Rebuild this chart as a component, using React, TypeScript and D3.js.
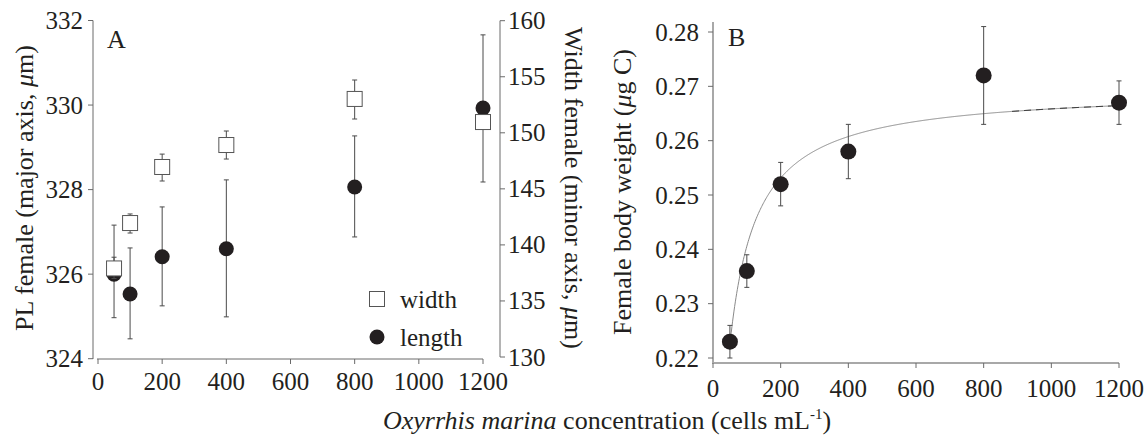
import React from "react";
import * as d3 from "d3";

// ---------- Data ----------
const concA = [50, 100, 200, 400, 800, 1200];
const lengthMean = [326.0, 325.53, 326.41, 326.6, 328.06, 329.93];
const lengthLo = [324.97, 324.47, 325.25, 324.99, 326.88, 328.18];
const lengthHi = [327.16, 326.62, 327.59, 328.23, 329.27, 331.66];
const widthMean = [137.9, 141.95, 146.95, 148.91, 153.02, 150.96];
const widthLo = [137.0, 141.06, 145.7, 147.66, 151.23, 150.5];
const widthHi = [138.9, 142.76, 148.1, 150.16, 154.71, 151.4];

const concB = [50, 100, 200, 400, 800, 1200];
const weightMean = [0.223, 0.236, 0.252, 0.258, 0.272, 0.267];
const weightLo = [0.22, 0.233, 0.248, 0.253, 0.263, 0.263];
const weightHi = [0.226, 0.239, 0.256, 0.263, 0.281, 0.271];

// fitted saturating model parameters
const fitBase = 0.2225;
const fitAmp = 0.047;
const fitK = 80;
const fitC0 = 50;

const xTicks = [0, 200, 400, 600, 800, 1000, 1200];
const yLeftTicksA = [324, 326, 328, 330, 332];
const yRightTicksA = [130, 135, 140, 145, 150, 155, 160];
const yTicksB = [0.22, 0.23, 0.24, 0.25, 0.26, 0.27, 0.28];

const INK = "#231f20";
const FONT = '"Liberation Serif", "DejaVu Serif", serif';
const FS = 25;
const TFS = 26;

export default function App() {
  const xA = d3.scaleLinear().domain([0, 1200]).range([98, 483]);
  const yL = d3.scaleLinear().domain([324, 332]).range([358.7, 20.5]);
  const yR = d3.scaleLinear().domain([130, 160]).range([357, 20.7]);
  const xB = d3.scaleLinear().domain([0, 1200]).range([713, 1119]);
  const yB = d3.scaleLinear().domain([0.22, 0.28]).range([358, 32]);

  const fit = (c: number) => fitBase + (fitAmp * (c - fitC0)) / (fitK + c - fitC0);
  const fitPts = d3.range(52, 1200.1, 2);
  const line = d3
    .line<number>()
    .x((c) => xB(c))
    .y((c) => yB(fit(c)));
  const dashPts = d3.range(884, 1178.1, 2);

  const axA = "#6a6a6a";
  const axB = "#a8a8a8";
  const eb = "#4a4a4a";
  const cap = 2.5;

  const errBar = (x: number, y1: number, y2: number, key: string, color = eb) => (
    <g key={key} stroke={color} strokeWidth={1}>
      <line x1={x} x2={x} y1={y1} y2={y2} />
      <line x1={x - cap} x2={x + cap} y1={y1} y2={y1} />
      <line x1={x - cap} x2={x + cap} y1={y2} y2={y2} />
    </g>
  );

  return (
    <svg
      width={1148}
      height={438}
      style={{ position: "absolute", left: 0, top: 0, fontFamily: FONT }}
      fill={INK}
    >
      <rect x={0} y={0} width={1148} height={438} fill="#fff" />

      {/* ---------- Panel A ---------- */}
      <line x1={93} x2={93} y1={yL(332)} y2={359} stroke={axA} strokeWidth={1} />
      {yLeftTicksA.map((t) => (
        <g key={"yl" + t}>
          <line x1={88} x2={93} y1={yL(t)} y2={yL(t)} stroke={axA} />
          <text x={83} y={yL(t) + 8.5} textAnchor="end" fontSize={FS}>
            {t}
          </text>
        </g>
      ))}
      <line x1={97} x2={xA(1200)} y1={359} y2={359} stroke={axA} strokeWidth={1} />
      {xTicks.map((t) => (
        <g key={"xa" + t}>
          <line x1={xA(t)} x2={xA(t)} y1={359} y2={364} stroke={axA} />
          <text x={xA(t)} y={390} textAnchor="middle" fontSize={FS}>
            {t}
          </text>
        </g>
      ))}
      <line x1={500} x2={500} y1={yR(160)} y2={yR(130)} stroke={axA} strokeWidth={1} />
      {yRightTicksA.map((t) => (
        <g key={"yr" + t}>
          <line x1={500} x2={505} y1={yR(t)} y2={yR(t)} stroke={axA} />
          <text x={508} y={yR(t) + 8.5} textAnchor="start" fontSize={FS}>
            {t}
          </text>
        </g>
      ))}
      <text transform={`translate(33,188) rotate(-90)`} textAnchor="middle" fontSize={TFS}>
        PL female (major axis, <tspan fontStyle="italic">μ</tspan>m)
      </text>
      <text transform={`translate(565,188) rotate(90)`} textAnchor="middle" fontSize={TFS}>
        Width female (minor axis, <tspan fontStyle="italic">μ</tspan>m)
      </text>
      <text x={107} y={48} fontSize={TFS}>
        A
      </text>

      {concA.map((c, i) => errBar(xA(c), yL(lengthHi[i]), yL(lengthLo[i]), "le" + i))}
      {concA.map((c, i) => (
        <circle key={"lc" + i} cx={xA(c)} cy={yL(lengthMean[i])} r={7.5} fill={INK} />
      ))}
      {concA.map((c, i) => errBar(xA(c), yR(widthHi[i]), yR(widthLo[i]), "we" + i))}
      {concA.map((c, i) => (
        <rect
          key={"ws" + i}
          x={xA(c) - 7.5}
          y={yR(widthMean[i]) - 7.5}
          width={15}
          height={15}
          fill="#fff"
          stroke="#555"
          strokeWidth={1}
        />
      ))}

      <rect x={377 - 7.5} y={299 - 7.5} width={15} height={15} fill="#fff" stroke="#555" strokeWidth={1} />
      <text x={400} y={308} fontSize={FS}>
        width
      </text>
      <circle cx={377} cy={337} r={7.5} fill={INK} />
      <text x={400} y={346} fontSize={FS}>
        length
      </text>

      {/* ---------- Panel B ---------- */}
      <line x1={713} x2={713} y1={22} y2={363} stroke={axB} strokeWidth={2} />
      {yTicksB.map((t) => (
        <g key={"yb" + t}>
          <line x1={708} x2={713} y1={yB(t)} y2={yB(t)} stroke={axA} />
          <text x={699} y={yB(t) + 8.5} textAnchor="end" fontSize={FS}>
            {t.toFixed(2)}
          </text>
        </g>
      ))}
      <line x1={712} x2={xB(1200)} y1={363} y2={363} stroke={axB} strokeWidth={2} />
      {xTicks.map((t) => (
        <g key={"xb" + t}>
          <line x1={xB(t)} x2={xB(t)} y1={363} y2={368} stroke={axA} />
          <text x={xB(t)} y={397} textAnchor="middle" fontSize={FS}>
            {t}
          </text>
        </g>
      ))}
      <text transform={`translate(631,192) rotate(-90)`} textAnchor="middle" fontSize={TFS}>
        Female body weight (<tspan fontStyle="italic">μ</tspan>g C)
      </text>
      <text x={728} y={46} fontSize={TFS}>
        B
      </text>

      <path d={line(fitPts) || ""} fill="none" stroke="#8a8a8a" strokeWidth={1} />
      <path d={line(dashPts) || ""} fill="none" stroke="#222" strokeWidth={1} strokeDasharray="7,5" />

      {concB.map((c, i) => errBar(xB(c), yB(weightHi[i]), yB(weightLo[i]), "be" + i))}
      {concB.map((c, i) => (
        <circle key={"bc" + i} cx={xB(c)} cy={yB(weightMean[i])} r={8} fill={INK} />
      ))}

      <text x={383} y={429} fontSize={TFS}>
        <tspan fontStyle="italic">Oxyrrhis marina</tspan> concentration (cells mL
        <tspan dy={-10} fontSize={15}>-1</tspan>
        <tspan dy={10}>)</tspan>
      </text>
    </svg>
  );
}
